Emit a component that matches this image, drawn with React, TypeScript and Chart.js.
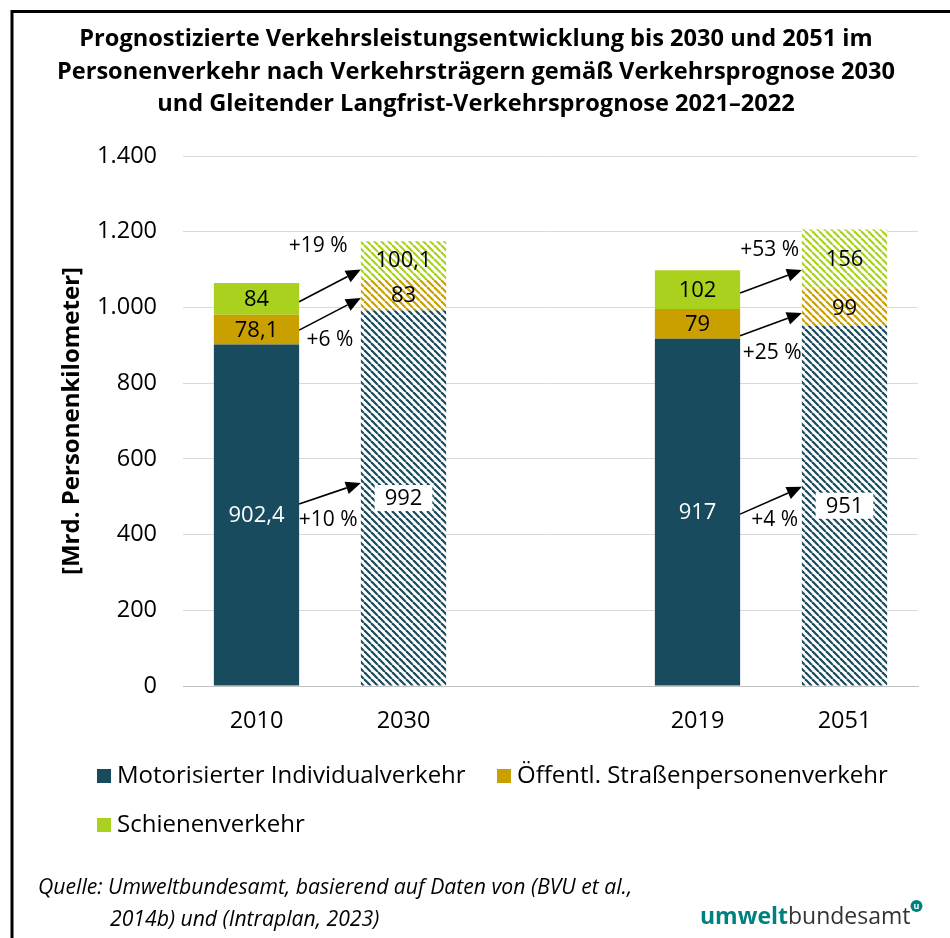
import React, { useEffect, useRef } from "react";
import { Chart, registerables } from "chart.js";

Chart.register(...registerables);

// ---------- data ----------
const categories = ["2010", "2030", "", "2019", "2051"];
const forecastFlags = [false, true, false, false, true];
const mivValues = [902.4, 992, null, 917, 951];
const oespvValues = [78.1, 83, null, 79, 99];
const railValues = [84, 100.1, null, 102, 156];
const seriesNames = [
  "Motorisierter Individualverkehr",
  "Öffentl. Straßenpersonenverkehr",
  "Schienenverkehr",
];
const seriesColors = ["#174b5d", "#c9a000", "#a9d11e"];
const yMax = 1400;
const yStep = 200;

// change arrows (values in Mrd. Pkm on the y scale)
const arrowFromIndex = [0, 0, 0, 3, 3, 3];
const arrowToIndex = [1, 1, 1, 4, 4, 4];
const arrowStartValues = [1015, 940, 481, 1038, 925, 454];
const arrowEndValues = [1100, 1025, 536, 1099, 985, 526];
const changeLabels = ["+19 %", "+6 %", "+10 %", "+53 %", "+25 %", "+4 %"];
const changeLabelValues = [1162, 914, 438, 1152, 880, 438];
const changeLabelShift = [0.31, 0.5, 0.47, 0.48, 0.52, 0.56];

const titleLines = [
  "Prognostizierte Verkehrsleistungsentwicklung bis 2030 und 2051 im",
  "Personenverkehr nach Verkehrsträgern gemäß Verkehrsprognose 2030",
  "und Gleitender Langfrist-Verkehrsprognose 2021–2022",
];
const yAxisTitle = "[Mrd. Personenkilometer]";
const sourceLines = [
  "Quelle: Umweltbundesamt, basierend auf Daten von (BVU et al.,",
  "2014b) und (Intraplan, 2023)",
];

const FONT = "'Open Sans', 'Noto Sans', sans-serif";

function fmtNum(v: number): string {
  return String(v).replace(".", ",");
}
function fmtThousands(v: number): string {
  const s = String(Math.round(v));
  return s.replace(/\B(?=(\d{3})+(?!\d))/g, ".");
}

function makeHatch(color: string): CanvasPattern | string {
  const s = 7;
  const c = document.createElement("canvas");
  c.width = s;
  c.height = s;
  const g = c.getContext("2d");
  if (!g) return color;
  g.fillStyle = "#ffffff";
  g.fillRect(0, 0, s, s);
  g.strokeStyle = color;
  g.lineWidth = 2.2;
  for (const k of [-s, 0, s]) {
    g.beginPath();
    g.moveTo(k, 0);
    g.lineTo(k + s, s);
    g.stroke();
  }
  return g.createPattern(c, "repeat") || color;
}

const decorPlugin = {
  id: "decor",
  beforeDraw(chart: any) {
    const ctx = chart.ctx;
    ctx.save();
    ctx.fillStyle = "#ffffff";
    ctx.fillRect(0, 0, chart.width, chart.height);
    ctx.restore();
  },
  afterDraw(chart: any) {
    const ctx = chart.ctx;
    ctx.save();
    // frame
    ctx.strokeStyle = "#000";
    ctx.lineWidth = 3;
    ctx.beginPath();
    ctx.moveTo(12, chart.height + 5);
    ctx.lineTo(12, 11.5);
    ctx.lineTo(chart.width + 5, 11.5);
    ctx.stroke();

    // title
    ctx.fillStyle = "#000";
    ctx.font = `bold 23.6px ${FONT}`;
    ctx.textAlign = "center";
    ctx.textBaseline = "middle";
    const ty = [39, 72, 104];
    titleLines.forEach((t, i) => ctx.fillText(t, 476, ty[i]));

    // legend
    ctx.font = `24px ${FONT}`;
    ctx.textAlign = "left";
    const legendPos = [
      [97, 776],
      [497, 776],
      [97, 825],
    ];
    seriesNames.forEach((n, i) => {
      const [x, y] = legendPos[i];
      ctx.fillStyle = seriesColors[i];
      ctx.fillRect(x, y - 7, 14, 14);
      ctx.fillStyle = "#000";
      ctx.fillText(n, x + 20, y);
    });

    // source
    ctx.font = `italic 21.2px ${FONT}`;
    ctx.fillStyle = "#000";
    ctx.fillText(sourceLines[0], 38, 888);
    ctx.fillText(sourceLines[1], 110, 920);

    // logo
    ctx.font = `bold 23px ${FONT}`;
    ctx.fillStyle = "#00807e";
    const lx = 700;
    ctx.fillText("umwelt", lx, 917);
    const w1 = ctx.measureText("umwelt").width;
    ctx.font = `23px ${FONT}`;
    ctx.fillStyle = "#333";
    ctx.fillText("bundesamt", lx + w1, 917);
    const w2 = ctx.measureText("bundesamt").width;
    ctx.fillStyle = "#00807e";
    ctx.beginPath();
    ctx.arc(lx + w1 + w2 + 6, 906, 6, 0, Math.PI * 2);
    ctx.fill();
    ctx.fillStyle = "#fff";
    ctx.font = `bold 9px ${FONT}`;
    ctx.textAlign = "center";
    ctx.fillText("u", lx + w1 + w2 + 6, 906);
    ctx.restore();
  },
};

const labelsPlugin = {
  id: "segLabels",
  afterDatasetsDraw(chart: any) {
    const ctx = chart.ctx;
    ctx.save();
    ctx.font = `22px ${FONT}`;
    ctx.textAlign = "center";
    ctx.textBaseline = "middle";
    chart.data.datasets.forEach((ds: any, di: number) => {
      const meta = chart.getDatasetMeta(di);
      meta.data.forEach((el: any, i: number) => {
        const v = ds.data[i];
        if (v == null) return;
        const cy = (el.y + el.base) / 2;
        const txt = fmtNum(v);
        if (di === 0 && forecastFlags[i]) {
          const w = ctx.measureText(txt).width;
          ctx.fillStyle = "#fff";
          ctx.fillRect(el.x - w / 2 - 10, cy - 13, w + 20, 26);
        }
        ctx.fillStyle = di === 0 && !forecastFlags[i] ? "#fff" : "#000";
        ctx.fillText(txt, el.x, cy + 1);
      });
    });

    // arrows
    const ys = chart.scales.y;
    const meta0 = chart.getDatasetMeta(0);
    ctx.strokeStyle = "#000";
    ctx.fillStyle = "#000";
    ctx.lineWidth = 1.6;
    arrowFromIndex.forEach((fi, k) => {
      const a = meta0.data[fi];
      const b = meta0.data[arrowToIndex[k]];
      const x1 = a.x + a.width / 2;
      const x2 = b.x - b.width / 2;
      const y1 = ys.getPixelForValue(arrowStartValues[k]);
      const y2 = ys.getPixelForValue(arrowEndValues[k]);
      const ang = Math.atan2(y2 - y1, x2 - x1);
      const hl = 15;
      const hw = 6.5;
      const bx = x2 - hl * Math.cos(ang);
      const by = y2 - hl * Math.sin(ang);
      ctx.beginPath();
      ctx.moveTo(x1, y1);
      ctx.lineTo(bx, by);
      ctx.stroke();
      ctx.beginPath();
      ctx.moveTo(x2, y2);
      ctx.lineTo(bx + hw * Math.sin(ang), by - hw * Math.cos(ang));
      ctx.lineTo(bx - hw * Math.sin(ang), by + hw * Math.cos(ang));
      ctx.closePath();
      ctx.fill();

      ctx.font = `21px ${FONT}`;
      const lx = x1 + (x2 - x1) * changeLabelShift[k];
      ctx.fillText(changeLabels[k], lx, ys.getPixelForValue(changeLabelValues[k]));
    });
    ctx.restore();
  },
};

export default function App() {
  const ref = useRef<HTMLCanvasElement | null>(null);
  useEffect(() => {
    document.body.style.margin = "0";
    const canvas = ref.current;
    if (!canvas) return;
    const series = [mivValues, oespvValues, railValues];
    const datasets = series.map((vals, si) => {
      const hatch = makeHatch(seriesColors[si]);
      return {
        label: seriesNames[si],
        data: vals,
        backgroundColor: categories.map((_, i) => (forecastFlags[i] ? hatch : seriesColors[si])),
        borderWidth: 0,
        barPercentage: 0.58,
        categoryPercentage: 1,
      };
    });
    const chart = new Chart(canvas, {
      type: "bar",
      data: { labels: categories, datasets: datasets as any },
      plugins: [decorPlugin, labelsPlugin],
      options: {
        responsive: false,
        animation: false,
        devicePixelRatio: 1,
        layout: { padding: { left: 0, right: 32, top: 156, bottom: 192 } },
        plugins: {
          legend: { display: false },
          tooltip: { enabled: false },
          title: { display: false },
        },
        scales: {
          x: {
            stacked: true,
            grid: { display: false, drawTicks: false },
            border: { display: true, color: "#bfbfbf", width: 1 },
            ticks: { color: "#000", font: { family: FONT, size: 23.5 }, padding: 21 },
            afterFit(scale: any) {
              scale.height = 60;
            },
          },
          y: {
            stacked: true,
            min: 0,
            max: yMax,
            ticks: {
              stepSize: yStep,
              color: "#000",
              font: { family: FONT, size: 23.5 },
              padding: 26,
              callback: (v: any) => fmtThousands(Number(v)),
            },
            grid: { color: "#d9d9d9", lineWidth: 1, drawTicks: false },
            border: { display: false },
            title: {
              display: true,
              text: yAxisTitle,
              color: "#000",
              font: { family: FONT, size: 24, weight: "bold" },
              padding: { top: 57.6, bottom: 0 },
            },
            afterFit(scale: any) {
              scale.width = 183;
            },
          },
        },
      },
    });
    return () => chart.destroy();
  }, []);
  return (
    <div style={{ position: "absolute", left: 0, top: 0 }}>
      <canvas ref={ref} width={950} height={938} style={{ display: "block" }} />
    </div>
  );
}
